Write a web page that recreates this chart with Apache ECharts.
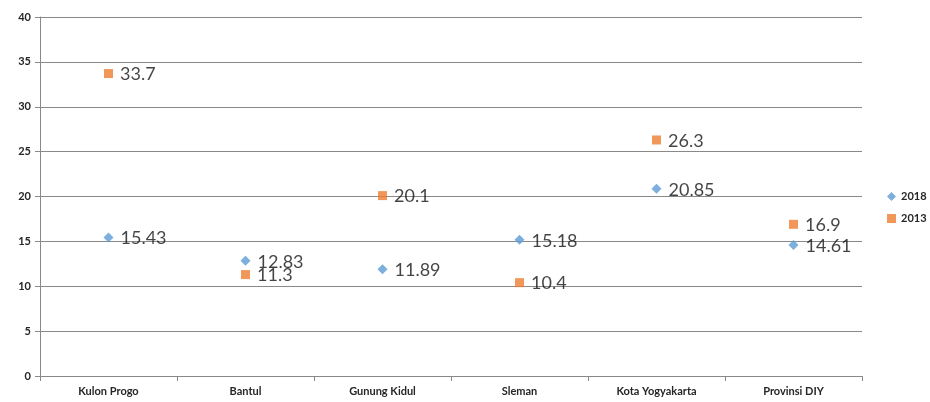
<!DOCTYPE html>
<html>
<head>
<meta charset="utf-8">
<script src="https://cdn.jsdelivr.net/npm/echarts@6/dist/echarts.min.js"></script>
<style>
  html, body { margin: 0; padding: 0; background: #fff; }
  #chart { width: 930px; height: 402px; }
</style>
</head>
<body>
<div id="chart"></div>
<script>
// Regions along the x axis
const categories = ['Kulon Progo', 'Bantul', 'Gunung Kidul', 'Sleman', 'Kota Yogyakarta', 'Provinsi DIY'];
// Values per year
const values2018 = [15.43, 12.83, 11.89, 15.18, 20.85, 14.61];
const values2013 = [33.7, 11.3, 20.1, 10.4, 26.3, 16.9];
// Y axis range
const yMin = 0, yMax = 40, yStep = 5;

const axisGrey = '#898989';
const fontFam = 'Lato, "Open Sans", sans-serif';

const chart = echarts.init(document.getElementById('chart'));

function seriesOf(name, data, symbol, color, size) {
  return {
    name: name,
    type: 'scatter',
    data: data,
    symbol: symbol,
    symbolSize: size,
    itemStyle: { color: color },
    label: {
      show: true,
      position: 'right',
      distance: 7,
      color: '#141414',
      fontSize: 18,
      fontFamily: fontFam,
      offset: [0, 1],
      formatter: p => String(p.value)
    },
    emphasis: { disabled: true }
  };
}

chart.setOption({
  animation: false,
  grid: { left: 40, right: 68, top: 17, bottom: 26, containLabel: false },
  legend: {
    orient: 'vertical',
    left: 882,
    top: 186,
    itemGap: 11,
    itemWidth: 9,
    itemHeight: 9,
    textStyle: { fontSize: 11, fontWeight: 'bold', color: '#262626', fontFamily: fontFam },
    data: [
      { name: '2018', icon: 'diamond' },
      { name: '2013', icon: 'rect' }
    ]
  },
  xAxis: {
    type: 'category',
    data: categories,
    boundaryGap: true,
    axisLine: { lineStyle: { color: axisGrey, width: 1 } },
    axisTick: { show: true, length: 5, alignWithLabel: false, lineStyle: { color: axisGrey } },
    axisLabel: { color: '#262626', fontSize: 11, fontWeight: 'bold', fontFamily: fontFam, margin: 10 },
    splitLine: { show: false }
  },
  yAxis: {
    type: 'value',
    min: yMin,
    max: yMax,
    interval: yStep,
    axisLine: { show: true, lineStyle: { color: axisGrey, width: 1 } },
    axisTick: { show: true, length: 5, lineStyle: { color: axisGrey } },
    axisLabel: { color: '#262626', fontSize: 11, fontWeight: 'bold', fontFamily: fontFam, margin: 9 },
    splitLine: { show: true, lineStyle: { color: axisGrey, width: 1 } }
  },
  series: [
    seriesOf('2018', values2018, 'diamond', '#5B9BD5', 10),
    seriesOf('2013', values2013, 'rect', '#ED7D31', 9)
  ]
});
</script>
</body>
</html>
